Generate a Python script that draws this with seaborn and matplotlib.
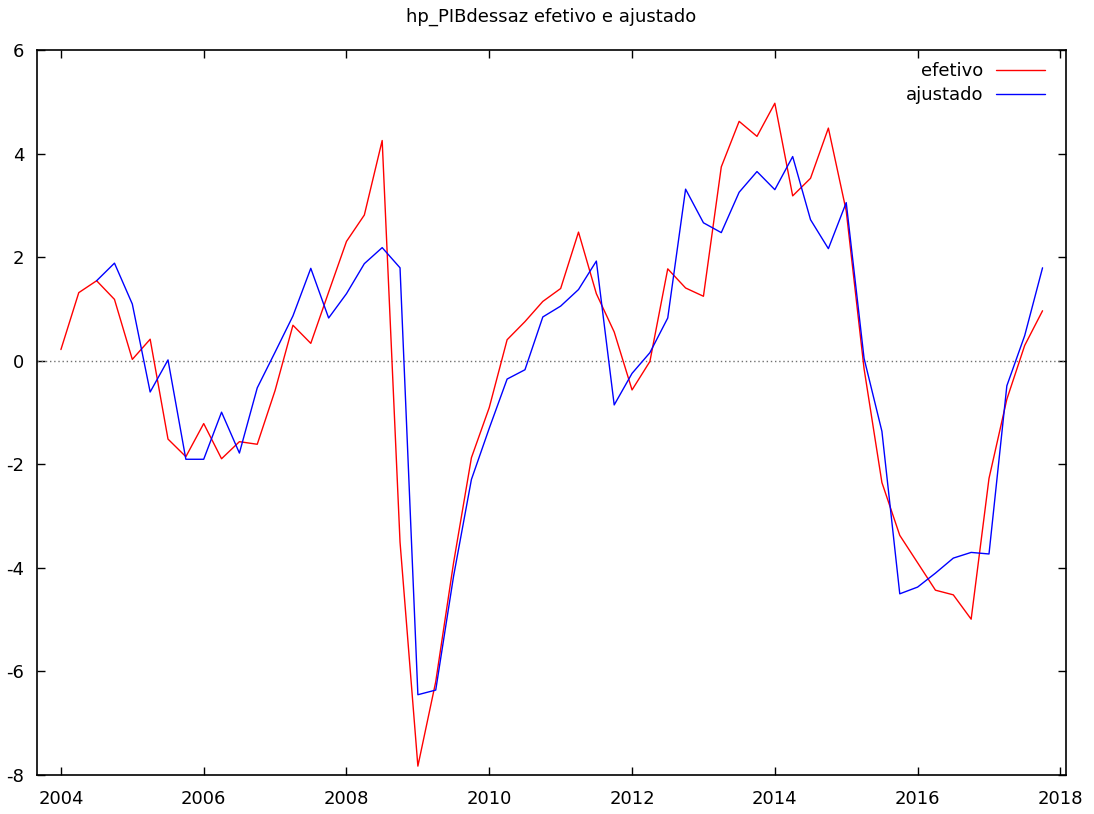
import numpy as np
import pandas as pd
import matplotlib.pyplot as plt
import seaborn as sns

plt.switch_backend('agg')

# Quarterly series, first quarter = 2004Q1
start_year = 2004
efetivo = [0.22, 1.32, 1.55, 1.19, 0.03, 0.42, -1.51, -1.85, -1.21, -1.89,
           -1.56, -1.61, -0.57, 0.69, 0.34, 1.33, 2.31, 2.82, 4.26, -3.5,
           -7.83, -6.2, -3.9, -1.87, -0.9, 0.41, 0.76, 1.15, 1.40, 2.49,
           1.30, 0.56, -0.56, -0.01, 1.78, 1.41, 1.25, 3.75, 4.63, 4.34,
           4.98, 3.19, 3.53, 4.50, 2.9, -0.15, -2.35, -3.37, -3.90, -4.43,
           -4.52, -4.99, -2.27, -0.74, 0.30, 0.97]
# ajustado starts two quarters later (2004Q3)
ajustado = [None, None,
            1.55, 1.89, 1.10, -0.60, 0.02, -1.90, -1.90, -0.99,
            -1.78, -0.52, 0.17, 0.87, 1.79, 0.83, 1.30, 1.88, 2.19, 1.80,
            -6.45, -6.36, -4.16, -2.29, -1.3, -0.35, -0.17, 0.85, 1.06, 1.38,
            1.93, -0.85, -0.24, 0.16, 0.83, 3.32, 2.67, 2.48, 3.26, 3.66,
            3.31, 3.95, 2.73, 2.17, 3.06, 0.05, -1.36, -4.50, -4.37, -4.10,
            -3.81, -3.70, -3.73, -0.48, 0.49, 1.80]
x_ticks = [2004, 2006, 2008, 2010, 2012, 2014, 2016, 2018]
y_ticks = [-8, -6, -4, -2, 0, 2, 4, 6]

tempo = start_year + np.arange(len(efetivo)) * 0.25
df = pd.DataFrame({'tempo': tempo, 'efetivo': efetivo,
                   'ajustado': pd.array(ajustado, dtype='Float64').astype(float)})
long_df = df.melt(id_vars='tempo', var_name='serie', value_name='valor').dropna()

sns.set_style('ticks')
plt.rcParams['font.family'] = ['DejaVu Sans']
plt.rcParams['axes.unicode_minus'] = False
plt.rcParams['text.color'] = 'black'

fig = plt.figure(figsize=(10.94, 8.14), dpi=100)
ax = fig.add_axes([0.0335, 0.048, 0.941, 0.890])

ax.axhline(0, color='#707070', linestyle=(0, (1, 2)), linewidth=1.0, zorder=1)
sns.lineplot(data=long_df, x='tempo', y='valor', hue='serie',
             palette={'efetivo': 'red', 'ajustado': 'blue'},
             linewidth=1.0, ax=ax, zorder=3)

ax.set_xlim(2003.66, 2018.08)
ax.set_ylim(-8, 6)
ax.set_xticks(x_ticks)
ax.set_yticks(y_ticks)
ax.set_xlabel('')
ax.set_ylabel('')
ax.set_title('hp_PIBdessaz efetivo e ajustado', fontsize=13, pad=21,
             color='black')

for side in ['top', 'right', 'left', 'bottom']:
    ax.spines[side].set_visible(True)
    ax.spines[side].set_color('black')
    ax.spines[side].set_linewidth(1.2)
ax.tick_params(axis='both', direction='in', length=6, width=1,
               top=True, right=True, labelsize=13, colors='black')
ax.tick_params(axis='x', pad=11)
ax.tick_params(axis='y', pad=9)

leg = ax.legend(loc='upper right', bbox_to_anchor=(0.995, 1.006), frameon=False,
                markerfirst=False, fontsize=13, handlelength=2.7,
                handletextpad=0.7, labelspacing=0.32, title=None)
for t in leg.get_texts():
    t.set_color('black')

plt.savefig('out.png', dpi=100)
plt.close()
